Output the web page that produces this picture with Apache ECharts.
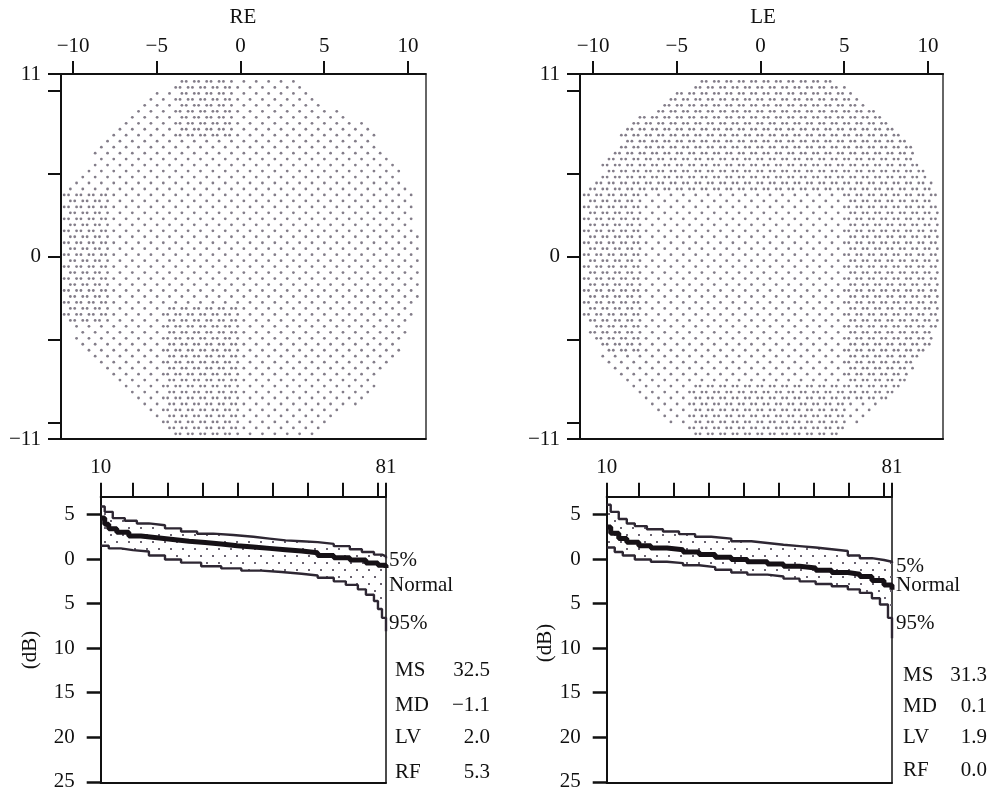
<!DOCTYPE html>
<html>
<head>
<meta charset="utf-8">
<script src="https://cdn.jsdelivr.net/npm/echarts@6/dist/echarts.min.js"></script>
<style>
  html, body { margin: 0; padding: 0; background: #fff; }
  #chart { width: 992px; height: 793px; }
</style>
</head>
<body>
<div id="chart"></div>
<script>
// ---------- Visual field stimulus maps (degrees) ----------
const fieldXTicks = [-10, -5, 0, 5, 10];
const fieldYTicks = [11, 10, 5, 0, -5, -10, -11];
const fieldYLabels = [11, 0, -11];

// test-grid spacing: staggered rows
const latticeStepX = 0.74;
const latticeStepY = 0.36;
const twinOffset = 0.26;

// outline of the tested area, [x, y]
const reOutline = [[-4.0,10.6],[-5.3,9.7],[-6.1,8.9],[-7.4,8.2],[-8.2,7.4],[-8.9,6.0],[-9.6,5.2],[-10.6,3.9],
  [-10.7,-3.9],[-9.7,-5.1],[-7.3,-7.5],[-5.8,-9.3],[-4.2,-10.8],[4.4,-10.8],[7.2,-8.7],[9.3,-6.3],
  [10.6,-2.7],[10.8,0],[10.2,3.9],[9.3,5.7],[7.4,8.1],[5.6,8.9],[4.8,9.6],[3.6,10.6]];
const leOutline = [[-3.8,10.6],[-5.3,9.7],[-6.0,9.0],[-7.4,8.3],[-8.2,7.6],[-8.9,6.1],[-9.6,5.4],[-10.6,4.0],
  [-10.7,-3.9],[-9.7,-5.7],[-8.2,-7.5],[-6.4,-9.3],[-4.3,-10.8],[4.6,-10.8],[6.8,-9.3],[8.6,-7.5],
  [9.9,-5.7],[10.8,-3.9],[10.8,0],[10.5,3.9],[9.6,5.6],[8.4,7.6],[6.5,9.0],[4.5,10.6]];

// zones tested at double density, [xMin, xMax, yMin, yMax]
const reDenseZones = [[-4.1, -0.6, 7.0, 10.8], [-10.8, -8.2, -4.2, 4.0], [-4.8, -0.4, -10.9, -3.0]];
const leDenseZones = [[-10.8, 10.8, 4.0, 10.8], [-10.8, -7.3, -6.0, 4.0], [4.8, 10.9, -8.7, 4.0], [-4.5, 4.8, -10.9, -7.5]];

// ---------- Bebie curves (rank vs. defect dB) ----------
const rankTicks = [10, 18, 26.7, 35.4, 44.1, 52.8, 61.5, 70.2, 79, 81];
const rankLabels = [10, 81];
const dbTicks = [-5, 0, 5, 10, 15, 20, 25];

const re5Rank = [10, 11, 13, 16, 19, 22, 26, 30, 34, 38, 43, 48, 52, 56, 60, 64, 68, 72, 75, 78, 80, 81];
const re5Val  = [-5.9, -5.3, -4.6, -4.3, -4.0, -3.8, -3.45, -3.1, -2.85, -2.7, -2.5, -2.3, -2.1, -2.0, -1.9, -1.7, -1.45, -1.1, -0.8, -0.5, -0.3, -0.1];
const re95Rank = [10, 12, 15, 18, 22, 26, 30, 35, 40, 45, 50, 55, 60, 64, 68, 71, 74, 76, 78, 79, 80, 81];
const re95Val  = [-1.5, -1.2, -1.0, -0.85, -0.4, 0.05, 0.4, 0.8, 1.05, 1.3, 1.45, 1.65, 1.85, 2.1, 2.5, 2.9, 3.4, 4.0, 4.7, 5.6, 6.6, 8.1];
const reEyeRank = [10, 11, 12, 14, 17, 20, 24, 28, 32, 36, 40, 44, 48, 52, 56, 60, 64, 68, 72, 76, 79, 81];
const reEyeVal  = [-4.6, -3.9, -3.4, -3.0, -2.6, -2.4, -2.2, -2.0, -1.85, -1.7, -1.5, -1.35, -1.2, -1.05, -0.9, -0.7, -0.4, -0.15, 0.1, 0.45, 0.7, 1.0];

const le5Rank = [10, 11, 13, 15, 17, 20, 24, 28, 32, 36, 41, 46, 50, 54, 58, 62, 66, 70, 73, 76, 79, 81];
const le5Val  = [-6.1, -5.3, -4.5, -4.0, -3.7, -3.35, -3.1, -2.8, -2.5, -2.3, -2.0, -1.8, -1.6, -1.45, -1.3, -1.1, -0.9, -0.4, -0.1, 0.1, 0.3, 0.45];
const le95Rank = [10, 12, 14, 17, 21, 25, 29, 33, 37, 41, 45, 50, 54, 58, 62, 66, 70, 73, 76, 78, 80, 81];
const le95Val  = [-1.3, -0.8, -0.4, 0.05, 0.3, 0.45, 0.7, 0.9, 1.2, 1.5, 1.75, 1.95, 2.2, 2.5, 2.8, 3.05, 3.4, 3.8, 4.4, 5.1, 6.6, 8.9];
const leEyeRank = [10, 11, 13, 15, 18, 21, 25, 29, 33, 37, 41, 45, 50, 54, 58, 62, 66, 70, 73, 76, 79, 81];
const leEyeVal  = [-3.6, -2.9, -2.3, -1.9, -1.5, -1.25, -1.05, -0.8, -0.5, -0.2, 0.05, 0.3, 0.55, 0.8, 1.0, 1.25, 1.5, 1.7, 1.95, 2.4, 2.9, 3.45];

const bandLabels = ['5%', 'Normal', '95%'];
const statNames = ['MS', 'MD', 'LV', 'RF'];
const reStats = ['32.5', '\u22121.1', '2.0', '5.3'];
const leStats = ['31.3', '0.1', '1.9', '0.0'];

// ---------- helpers ----------
const FONT = 'Liberation Serif, Times New Roman, serif';
const FONT_SIZE = 21;
const INK = '#111';

function insidePolygon(x, y, poly) {
  let inside = false;
  for (let i = 0, j = poly.length - 1; i < poly.length; j = i++) {
    const xi = poly[i][0], yi = poly[i][1], xj = poly[j][0], yj = poly[j][1];
    if ((yi > y) !== (yj > y) && x < (xj - xi) * (y - yi) / (yj - yi) + xi) inside = !inside;
  }
  return inside;
}
function inZones(x, y, zones) {
  return zones.some(z => x >= z[0] && x <= z[1] && y >= z[2] && y <= z[3]);
}
// stimulus locations on the staggered test grid inside the outline
function testLocations(outline, zones) {
  const pts = [];
  for (let k = 0; k <= 60; k++) {
    const y = 10.55 - k * latticeStepY;
    const shift = (k % 2) * latticeStepX / 2;
    for (let x = -10.9 + shift; x <= 11; x += latticeStepX) {
      if (!insidePolygon(x, y, outline)) continue;
      pts.push([x, y]);
      if (inZones(x, y, zones) && insidePolygon(x + twinOffset, y, outline)) pts.push([x + twinOffset, y]);
    }
  }
  return pts;
}
function pairs(xs, ys) { return xs.map((x, i) => [x, ys[i]]); }
function staircase(xs, ys) {
  const out = [];
  for (let i = 0; i < xs.length; i++) {
    if (i > 0) out.push([xs[i], ys[i - 1]]);
    out.push([xs[i], ys[i]]);
  }
  return out;
}
const minusFmt = v => (v < 0 ? '\u2212' + Math.abs(v) : String(v));

// dotted fill for the normal band
const stippleCanvas = document.createElement('canvas');
stippleCanvas.width = 12; stippleCanvas.height = 14;
(function () {
  const c = stippleCanvas.getContext('2d');
  c.fillStyle = '#6a6370';
  c.fillRect(2, 2, 2, 2);
  c.fillRect(8, 9, 2, 2);
})();
const stipple = { image: stippleCanvas, repeat: 'repeat' };

// ---------- layout ----------
const grids = [
  { left: 61, top: 74, width: 364.7, height: 365 },       // RE field
  { left: 580, top: 74, width: 363, height: 365 },        // LE field
  { left: 100.7, top: 496.7, width: 285.3, height: 286 }, // RE Bebie
  { left: 606.7, top: 496.7, width: 285.3, height: 286 }  // LE Bebie
];

const labelFont = { fontFamily: FONT, fontSize: FONT_SIZE, color: INK };
const edge = (color, width) => ({ show: true, onZero: false, lineStyle: { color: color, width: width } });
const hidden = { axisTick: { show: false }, axisLabel: { show: false }, splitLine: { show: false } };

const xAxes = [], yAxes = [];
function fieldAxes(g, xmin, xmax) {
  xAxes.push({ gridIndex: g, type: 'value', position: 'top', min: xmin, max: xmax,
    axisLine: edge(INK, 2), splitLine: { show: false },
    axisTick: { show: true, customValues: fieldXTicks, length: 13, lineStyle: { color: INK, width: 2 } },
    axisLabel: Object.assign({ customValues: fieldXTicks, margin: 17, formatter: minusFmt }, labelFont) });
  xAxes.push(Object.assign({ gridIndex: g, type: 'value', position: 'bottom', min: xmin, max: xmax, axisLine: edge(INK, 2) }, hidden));
  yAxes.push({ gridIndex: g, type: 'value', position: 'left', min: -11, max: 11,
    axisLine: edge(INK, 2), splitLine: { show: false },
    axisTick: { show: true, customValues: fieldYTicks, length: 13, lineStyle: { color: INK, width: 2 } },
    axisLabel: Object.assign({ customValues: fieldYLabels, margin: 20, formatter: minusFmt }, labelFont) });
  yAxes.push(Object.assign({ gridIndex: g, type: 'value', position: 'right', min: -11, max: 11, axisLine: edge('#666', 2) }, hidden));
}
function bebieAxes(g) {
  xAxes.push({ gridIndex: g, type: 'value', position: 'top', min: 10, max: 81,
    axisLine: edge(INK, 2), splitLine: { show: false },
    axisTick: { show: true, customValues: rankTicks, length: 14, lineStyle: { color: INK, width: 2 } },
    axisLabel: Object.assign({ customValues: rankLabels, margin: 19 }, labelFont) });
  xAxes.push(Object.assign({ gridIndex: g, type: 'value', position: 'bottom', min: 10, max: 81, axisLine: edge(INK, 2) }, hidden));
  yAxes.push({ gridIndex: g, type: 'value', position: 'left', inverse: true, min: -7, max: 25.1,
    axisLine: edge(INK, 2), splitLine: { show: false },
    axisTick: { show: true, customValues: dbTicks, length: 14, lineStyle: { color: INK, width: 2.5 } },
    axisLabel: Object.assign({ customValues: dbTicks, margin: 26, formatter: v => String(Math.abs(v)) }, labelFont) });
  yAxes.push(Object.assign({ gridIndex: g, type: 'value', position: 'right', inverse: true, min: -7, max: 25.1, axisLine: edge(INK, 1.5) }, hidden));
}
fieldAxes(0, -10.72, 11.06);
fieldAxes(1, -10.78, 10.9);
bebieAxes(2);
bebieAxes(3);

// ---------- series ----------
function fieldSeries(axisIdx, outline, zones) {
  return { type: 'scatter', xAxisIndex: axisIdx, yAxisIndex: axisIdx, symbol: 'circle', symbolSize: 2.8,
    itemStyle: { color: '#645c6c', opacity: 0.8 }, silent: true, animation: false,
    data: testLocations(outline, zones) };
}
function bebieSeries(axisIdx, r5, v5, r95, v95, rEye, vEye) {
  const band = {
    type: 'custom', xAxisIndex: axisIdx, yAxisIndex: axisIdx, silent: true, animation: false, z: 1,
    data: [[r5[0], v5[0]]],
    renderItem: (params, api) => {
      const outline = staircase(r5, v5).concat(staircase(r95, v95).reverse());
      return { type: 'polygon', shape: { points: outline.map(p => api.coord(p)) }, style: { fill: stipple } };
    }
  };
  const limit = (r, v) => ({ type: 'line', xAxisIndex: axisIdx, yAxisIndex: axisIdx, step: 'end', showSymbol: false,
    silent: true, animation: false, z: 2, lineStyle: { color: '#2e2733', width: 2.4 }, data: pairs(r, v) });
  const eye = { type: 'line', xAxisIndex: axisIdx, yAxisIndex: axisIdx, step: 'end', showSymbol: false,
    silent: true, animation: false, z: 3, lineStyle: { color: '#161116', width: 5 }, data: pairs(rEye, vEye) };
  return [band, limit(r5, v5), limit(r95, v95), eye];
}

const series = [
  fieldSeries(0, reOutline, reDenseZones),
  fieldSeries(2, leOutline, leDenseZones),
  ...bebieSeries(4, re5Rank, re5Val, re95Rank, re95Val, reEyeRank, reEyeVal),
  ...bebieSeries(6, le5Rank, le5Val, le95Rank, le95Val, leEyeRank, leEyeVal)
];

// ---------- text annotations ----------
function txt(x, y, text, align, extra) {
  return Object.assign({ type: 'text', x: x, y: y, silent: true,
    style: { text: text, fontFamily: FONT, fontSize: FONT_SIZE, fill: INK, align: align || 'left', verticalAlign: 'middle' } }, extra || {});
}
const graphic = [
  txt(243, 17, 'RE', 'center'),
  txt(763, 17, 'LE', 'center'),
  txt(30, 650, '(dB)', 'center', { rotation: Math.PI / 2 }),
  txt(545, 643, '(dB)', 'center', { rotation: Math.PI / 2 })
];
const reBandY = [560, 585, 623], leBandY = [566, 585, 623];
bandLabels.forEach((t, i) => {
  graphic.push(txt(389, reBandY[i], t));
  graphic.push(txt(896, leBandY[i], t));
});
const reStatY = [670, 705, 737, 772], leStatY = [675, 706, 737, 770];
statNames.forEach((n, i) => {
  graphic.push(txt(395, reStatY[i], n));
  graphic.push(txt(490, reStatY[i], reStats[i], 'right'));
  graphic.push(txt(903, leStatY[i], n));
  graphic.push(txt(987, leStatY[i], leStats[i], 'right'));
});

const chart = echarts.init(document.getElementById('chart'), null, { renderer: 'canvas' });
chart.setOption({
  backgroundColor: '#fff',
  animation: false,
  grid: grids,
  xAxis: xAxes,
  yAxis: yAxes,
  series: series,
  graphic: graphic
});
</script>
</body>
</html>
